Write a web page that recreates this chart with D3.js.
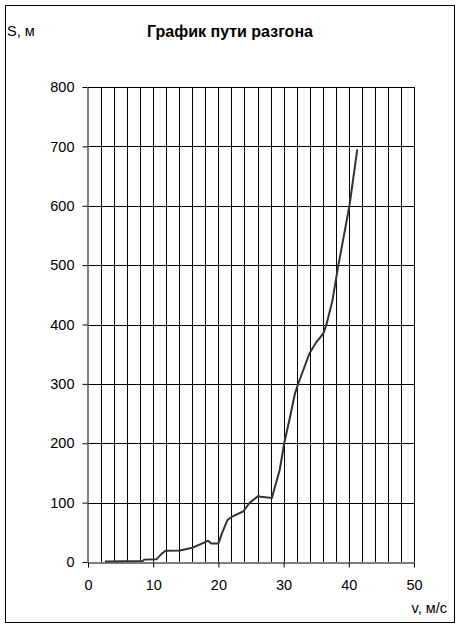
<!DOCTYPE html>
<html>
<head>
<meta charset="utf-8">
<script src="https://cdn.jsdelivr.net/npm/d3@7"></script>
<style>
  body { margin: 0; background: #fff; }
  svg text { font-family: Arial, "Liberation Sans", sans-serif; fill: #000; }
</style>
</head>
<body>
<div id="graph"></div>
<script>
(function() {
  'use strict';
  // speed, m/s
  var speed = [2.6, 8.4, 8.6, 10.5, 11.3, 11.9, 14.1, 16.0, 17.9, 18.4, 18.9, 20.0,
    20.6, 21.4, 22.2, 23.8, 24.8, 26.1, 26.5, 28.2, 29.4, 30.1, 31.0, 31.75, 32.2,
    33.95, 35.0, 36.1, 36.6, 37.5, 38.4, 40.1, 41.3];
  // path, m
  var path = [1, 1.5, 4, 4.5, 14, 19, 19.5, 24, 33, 36, 31, 31,
    50, 71, 77, 85, 100, 111, 110, 108, 155, 200, 245, 284, 299,
    351, 370, 385, 401, 441, 500, 600, 695];
  var xTicks = [0, 10, 20, 30, 40, 50];
  var yTicks = [0, 100, 200, 300, 400, 500, 600, 700, 800];
  var xGrid = d3.range(2, 51, 2);

  var width = 460, height = 628,
    left = 88, right = 414, top = 87, bottom = 562;

  var svg = d3.select('#graph').append('svg')
    .attr('width', width)
    .attr('height', height);

  svg.append('rect')
    .attr('x', 5.5).attr('y', 5.5)
    .attr('width', 449).attr('height', 617)
    .style('fill', '#fff')
    .style('stroke', '#000');

  var x = d3.scaleLinear().domain([0, 50]).range([left, right]);
  var y = d3.scaleLinear().domain([0, 800]).range([bottom, top]);

  // grid
  svg.append('g').selectAll('line.v')
    .data(xGrid)
    .enter().append('line')
    .attr('x1', function(d) {return Math.round(x(d)) + 0.5;})
    .attr('x2', function(d) {return Math.round(x(d)) + 0.5;})
    .attr('y1', top).attr('y2', bottom)
    .style('stroke', '#000');

  svg.append('g').selectAll('line.h')
    .data(yTicks.slice(1))
    .enter().append('line')
    .attr('x1', left).attr('x2', right)
    .attr('y1', function(d) {return Math.round(y(d)) + 0.5;})
    .attr('y2', function(d) {return Math.round(y(d)) + 0.5;})
    .style('stroke', '#000');

  // axes
  var xAxis = svg.append('g')
    .attr('transform', 'translate(0,' + (bottom + 0.5) + ')')
    .call(d3.axisBottom(x).tickValues(xTicks).tickSize(5).tickSizeOuter(0).tickPadding(12));
  var yAxis = svg.append('g')
    .attr('transform', 'translate(' + (left - 0.5) + ',0)')
    .call(d3.axisLeft(y).tickValues(yTicks).tickSize(5).tickSizeOuter(0).tickPadding(8));

  [xAxis, yAxis].forEach(function(a) {
    a.attr('font-family', null);
    a.select('.domain').style('stroke', '#000');
    a.selectAll('.tick line').style('stroke', '#000');
    a.selectAll('.tick text')
      .style('font-size', '14.5px')
      .attr('fill', '#000');
  });

  // curve
  var pts = speed.map(function(v, i) {return [v, path[i]];});
  svg.append('path')
    .datum(pts)
    .attr('d', d3.line()
      .x(function(d) {return x(d[0]);})
      .y(function(d) {return y(d[1]);}))
    .style('fill', 'none')
    .style('stroke', '#333')
    .style('stroke-width', 2);

  // texts
  svg.append('text')
    .attr('x', 230).attr('y', 37)
    .attr('text-anchor', 'middle')
    .style('font-size', '16px')
    .style('font-weight', 'bold')
    .text('График пути разгона');

  svg.append('text')
    .attr('x', 7).attr('y', 36)
    .style('font-size', '14.5px')
    .text('S, м');

  svg.append('text')
    .attr('x', 447).attr('y', 613)
    .attr('text-anchor', 'end')
    .style('font-size', '14.5px')
    .text('v, м/с');
})();
</script>
</body>
</html>
